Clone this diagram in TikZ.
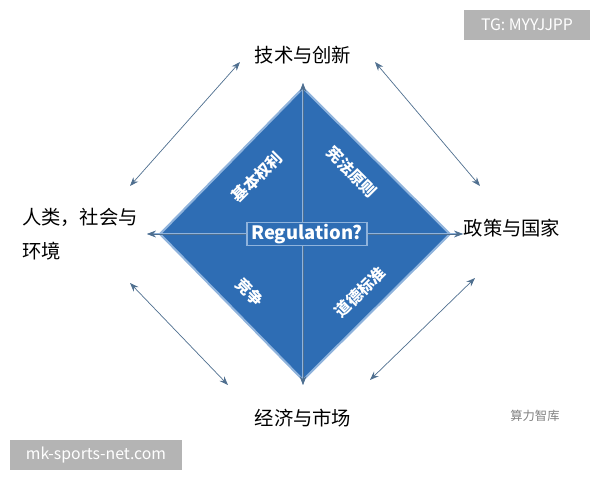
\documentclass[tikz,border=0pt]{standalone}
\usepackage{fontspec}
\setmainfont{Noto Sans CJK SC}
\usetikzlibrary{arrows.meta}
\definecolor{diamondblue}{HTML}{2E6DB4}
\definecolor{edgeblue}{HTML}{8FB3DC}
\definecolor{arrowgray}{HTML}{4F6F8F}
\definecolor{markgray}{HTML}{B4B4B4}
\tikzset{
  side/.style={font=\fontsize{11}{13}\selectfont},
  inner label/.style={text=white,font=\fontsize{9}{11}\selectfont\bfseries,inner sep=0pt},
  twoway/.style={{Stealth[length=5pt]}-{Stealth[length=5pt]},draw=arrowgray,thin},
  mark box/.style={fill=markgray,text=white,font=\fontsize{9}{11}\selectfont,inner sep=4pt}
}
\begin{document}
\begin{tikzpicture}[x=0.02cm,y=-0.02cm]
\useasboundingbox (0,0) rectangle (600,480);

\coordinate (top) at (303,88);
\coordinate (bottom) at (303,380);
\coordinate (left) at (160,234);
\coordinate (right) at (450,234);

\fill[diamondblue,draw=edgeblue,line width=1.2pt] (top) -- (right) -- (bottom) -- (left) -- cycle;

\coordinate (top tip) at (303,83);
\coordinate (bottom tip) at (303,385);
\coordinate (left tip) at (147,234);
\coordinate (right tip) at (463,234);

\draw[twoway,draw=edgeblue,line width=0.8pt] (top tip) -- (bottom tip);
\draw[twoway,draw=edgeblue,line width=0.8pt] (left tip) -- (right tip);
\draw[-{Stealth[length=5pt]},draw=arrowgray] (303,234) -- (top tip);
\draw[-{Stealth[length=5pt]},draw=arrowgray] (303,234) -- (bottom tip);
\draw[-{Stealth[length=5pt]},draw=arrowgray] (303,234) -- (left tip);
\draw[-{Stealth[length=5pt]},draw=arrowgray] (303,234) -- (right tip);

\node[draw=edgeblue,fill=diamondblue,text=white,line width=0.8pt,minimum width=120*0.02cm,minimum height=22*0.02cm,inner sep=1pt,font=\fontsize{10.5}{12}\selectfont\bfseries](regulation) at (307,234) {Regulation?};

\node[inner label,rotate=45](rights) at (257,177) {基本权利};
\node[inner label,rotate=-45](constitution) at (352,172) {宪法原则};
\node[inner label,rotate=-45](competition) at (250,292) {竞争};
\node[inner label,rotate=45](ethics) at (360,292) {道德标准};

\node[side](tech) at (303,55) {技术与创新};
\node[side](policy) at (512,228) {政策与国家};
\node[side](economy) at (303,418) {经济与市场};
\node[side,align=left](society) at (80,234) {人类，社会与\\[6pt]环境};

\coordinate (ul a) at (130,186);
\coordinate (ul b) at (240,62);
\coordinate (ur a) at (375,62);
\coordinate (ur b) at (480,186);
\coordinate (ll a) at (130,283);
\coordinate (ll b) at (228,385);
\coordinate (lr a) at (370,380);
\coordinate (lr b) at (475,278);

\draw[twoway] (ul a) -- (ul b);
\draw[twoway] (ur a) -- (ur b);
\draw[twoway] (ll a) -- (ll b);
\draw[twoway] (lr a) -- (lr b);

\node[text=gray,font=\fontsize{7}{9}\selectfont](logo) at (535,416) {算力智库};
\node[mark box,minimum width=126*0.02cm,minimum height=30*0.02cm](tg mark) at (527,25) {TG: MYYJJPP};
\node[mark box,minimum width=172*0.02cm,minimum height=30*0.02cm](site mark) at (96,455) {mk-sports-net.com};

\end{tikzpicture}
\end{document}
